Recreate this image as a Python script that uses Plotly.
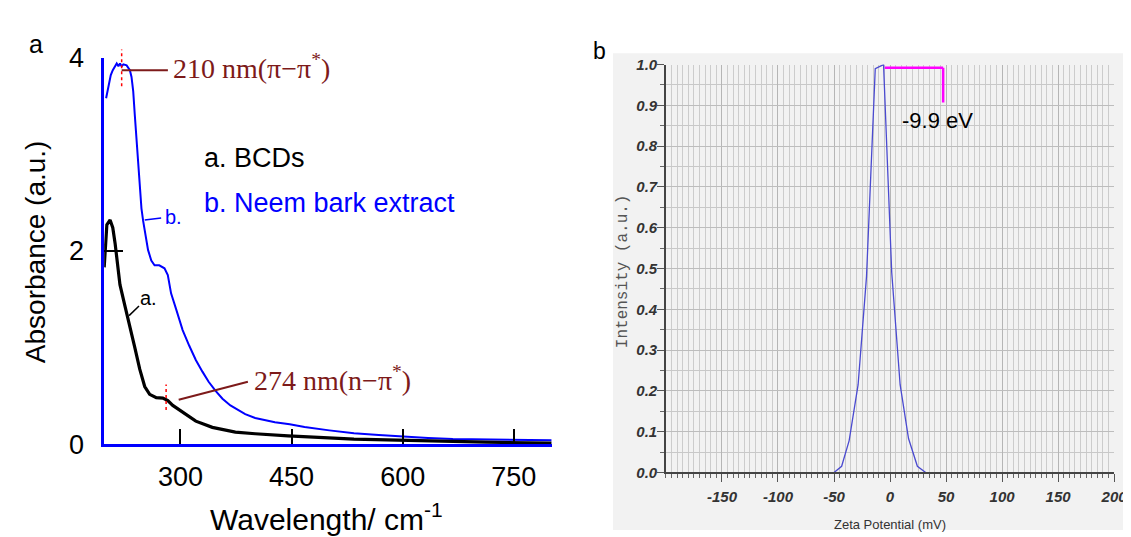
import plotly.graph_objects as go

W, H = 1131, 537

# ---------------- Panel a : UV-vis absorbance ----------------
bcd_wavelength = [197.0, 198.6, 200.6, 205.0, 208.6, 211.7, 214.9, 218.3, 225.0, 231.7, 238.3, 245.0,
                  251.7, 258.4, 267.3, 276.2, 282.9, 289.6, 298.4, 307.3, 320.7, 343.0, 356.3, 374.1,
                  400.8, 445.2, 534.2, 623.2, 712.1, 801.1]
bcd_absorbance = [1.83, 2.01, 2.27, 2.32, 2.24, 2.08, 1.85, 1.65, 1.43, 1.23, 1.00, 0.775,
                  0.596, 0.515, 0.48, 0.476, 0.45, 0.40, 0.352, 0.30, 0.237, 0.173, 0.15, 0.124,
                  0.107, 0.085, 0.052, 0.032, 0.020, 0.010]

neem_wavelength = [199.6, 202.8, 205.9, 208.6, 211.6, 213.9, 216.2, 218.3, 220.6, 222.9, 227.3, 231.7,
                   233.9, 236.2, 238.3, 240.6, 242.9, 245.0, 247.3, 249.6, 253.0, 256.2, 260.6, 265.0,
                   271.3, 278.4, 282.9, 287.3, 294.0, 302.9, 311.7, 320.7, 329.6, 338.0, 347.4, 356.7,
                   367.4, 378.1, 387.4, 400.8, 414.1, 427.5, 447.5, 467.5, 500.9, 534.2, 567.6, 600.9,
                   634.3, 667.6, 734.4, 801.1]
neem_absorbance = [3.58, 3.71, 3.82, 3.87, 3.92, 3.94, 3.91, 3.94, 3.91, 3.93, 3.92, 3.87,
                   3.80, 3.65, 3.41, 3.16, 2.89, 2.63, 2.44, 2.31, 2.14, 2.01, 1.90, 1.85,
                   1.85, 1.82, 1.75, 1.56, 1.40, 1.18, 1.02, 0.87, 0.75, 0.645, 0.55, 0.47,
                   0.40, 0.35, 0.31, 0.27, 0.245, 0.225, 0.205, 0.176, 0.142, 0.112, 0.093, 0.075,
                   0.062, 0.052, 0.042, 0.039]

a_x_ticks = [300, 450, 600, 750]
a_y_ticks = [0, 2, 4]
peak_pi = 220.6      # marked "210 nm" peak (position on drawn axis)
peak_n = 280.6       # marked "274 nm" shoulder

# ---------------- Panel b : zeta potential ----------------
zeta_mv = [-50, -43.2, -36.5, -28.5, -21.0, -13.2, -5.8, 1.5, 9.0, 16.5, 24.4, 31.8]
zeta_intensity = [0.0, 0.015, 0.078, 0.215, 0.48, 0.99, 1.0, 0.49, 0.215, 0.083, 0.015, 0.0]

b_x_tickvals = [-150, -100, -50, 0, 50, 100, 150, 200]
b_x_ticktext = ["-150", "-100", "-50", "0", "50", "100", "150", "200"]
b_y_tickvals = [0.0, 0.1, 0.2, 0.3, 0.4, 0.5, 0.6, 0.7, 0.8, 0.9, 1.0]
b_y_ticktext = ["0.0", "0.1", "0.2", "0.3", "0.4", "0.5", "0.6", "0.7", "0.8", "0.9", "1.0"]


def px(x):
    return x / W


def py(y):
    return 1 - y / H


SANS = "Liberation Sans"
SERIF = "Liberation Serif"
MONO = "Liberation Mono"
DARKRED = "#7d1a1a"

fig = go.Figure()

fig.add_trace(go.Scatter(x=neem_wavelength, y=neem_absorbance, mode="lines",
                         line=dict(color="#0000ff", width=2), xaxis="x", yaxis="y",
                         showlegend=False))
fig.add_trace(go.Scatter(x=bcd_wavelength, y=bcd_absorbance, mode="lines",
                         line=dict(color="#000000", width=3.2), xaxis="x", yaxis="y",
                         showlegend=False))
fig.add_trace(go.Scatter(x=zeta_mv, y=zeta_intensity, mode="lines",
                         line=dict(color="#4a4ad0", width=1.3), xaxis="x2", yaxis="y2",
                         showlegend=False))

shapes = [
    # grey instrument background of panel b
    dict(type="rect", xref="paper", yref="paper", x0=px(612), x1=1, y0=0, y1=py(32),
         fillcolor="#f2f2f2", line=dict(width=0), layer="below"),
    # dotted peak markers
    dict(type="line", xref="x", yref="paper", x0=peak_pi, x1=peak_pi, y0=py(67), y1=py(28),
         line=dict(color="#ff0000", width=1.5, dash="dot")),
    dict(type="line", xref="x", yref="paper", x0=peak_n, x1=peak_n, y0=py(410), y1=py(383),
         line=dict(color="#ff0000", width=1.5, dash="dot")),
    # leader lines for peak labels
    dict(type="line", xref="x", yref="y", x0=peak_pi, x1=283.0, y0=3.87, y1=3.87,
         line=dict(color=DARKRED, width=2)),
    dict(type="line", xref="x", yref="y", x0=297.6, x1=391.0, y0=0.459, y1=0.645,
         line=dict(color=DARKRED, width=2)),
    # leader lines for curve labels
    dict(type="line", xref="x", yref="y", x0=251.7, x1=273.9, y0=2.32, y1=2.34,
         line=dict(color="#0000ff", width=1.5)),
    dict(type="line", xref="x", yref="y", x0=230.6, x1=244.0, y0=1.33, y1=1.43,
         line=dict(color="#000000", width=1.5)),
    # magenta marker on zeta peak
    dict(type="line", xref="x2", yref="y2", x0=-4.7, x1=47.4, y0=0.992, y1=0.992,
         line=dict(color="#ff00ff", width=2.5)),
    dict(type="line", xref="x2", yref="y2", x0=47.4, x1=47.4, y0=0.992, y1=0.907,
         line=dict(color="#ff00ff", width=2.5)),
]

annotations = [
    dict(text="a", x=px(28), y=py(22), font=dict(family=SANS, size=25, color="black")),
    dict(text="b", x=px(598), y=py(30), font=dict(family=SANS, size=23, color="black")),
    dict(text="Absorbance (a.u.)", x=px(28), y=py(242), textangle=-90,
         font=dict(family=SANS, size=28, color="black")),
    dict(text="Wavelength/ cm<sup>-1</sup>", x=px(322), y=py(523),
         font=dict(family=SANS, size=30, color="black")),
    dict(text="a. BCDs", x=px(196), y=py(143), xanchor="left",
         font=dict(family=SANS, size=27, color="black")),
    dict(text="b. Neem bark extract", x=px(196), y=py(191), xanchor="left",
         font=dict(family=SANS, size=27, color="#0000ff")),
    dict(text="b.", x=px(157), y=py(206), xanchor="left",
         font=dict(family=SANS, size=20, color="#0000ff")),
    dict(text="a.", x=px(132), y=py(291), xanchor="left",
         font=dict(family=SANS, size=20, color="black")),
    dict(text="210 nm(π−π<sup>*</sup>)", x=px(165), y=py(46), xanchor="left",
         font=dict(family=SERIF, size=28, color=DARKRED)),
    dict(text="274 nm(n−π<sup>*</sup>)", x=px(247), y=py(377), xanchor="left",
         font=dict(family=SERIF, size=28, color=DARKRED)),
    dict(text="-9.9 eV", x=px(902), y=py(103), xanchor="left",
         font=dict(family=SANS, size=22, color="black")),
    dict(text="Intensity (a.u.)", x=px(622), y=py(263), textangle=-90,
         font=dict(family=MONO, size=16, color="#555555")),
    dict(text="Zeta Potential (mV)", x=px(892), y=py(531),
         font=dict(family=SANS, size=13, color="#333333")),
]
for a in annotations:
    a.setdefault("xref", "paper")
    a.setdefault("yref", "paper")
    a.setdefault("showarrow", False)
    a.setdefault("xanchor", "center")
    a.setdefault("yanchor", "middle")

b_tickfont = dict(family=SANS, size=15, color="#333333", weight="bold", style="italic")

fig.update_layout(
    width=W, height=H, autosize=False,
    margin=dict(l=0, r=0, t=0, b=0),
    paper_bgcolor="white", plot_bgcolor="white",
    shapes=shapes, annotations=annotations,
    xaxis=dict(domain=[px(97.3), px(550)], range=[197, 801.1], anchor="y",
               tickmode="array", tickvals=a_x_ticks, ticks="inside", ticklen=15, tickwidth=2,
               tickcolor="black", showline=True, linecolor="#0000ff", linewidth=2.5,
               showgrid=False, zeroline=False, ticklabelstandoff=7,
               tickfont=dict(family=SANS, size=27, color="black")),
    yaxis=dict(domain=[py(446), py(36.7)], range=[0, 4], anchor="x",
               tickmode="array", tickvals=a_y_ticks, ticks="inside", ticklen=19, tickwidth=2,
               tickcolor="black", showline=True, linecolor="#0000ff", linewidth=2.5,
               showgrid=False, zeroline=False, ticklabelstandoff=12,
               tickfont=dict(family=SANS, size=27, color="black")),
    xaxis2=dict(domain=[px(665.6), px(1119)], range=[-200, 200], anchor="y2",
                tickmode="array", tickvals=b_x_tickvals, ticktext=b_x_ticktext,
                ticks="outside", ticklen=8, tickwidth=1, tickcolor="#555555",
                showline=True, linecolor="#444444", linewidth=1.5,
                showgrid=True, gridcolor="#b5b5b5", gridwidth=1, zeroline=False,
                minor=dict(tickmode="linear", tick0=0, dtick=5, ticks="outside", ticklen=4,
                           tickwidth=1, tickcolor="#666666", showgrid=True,
                           gridcolor="#cccccc", gridwidth=1),
                tickfont=b_tickfont, ticklabelstandoff=2, ticklabeloverflow="allow"),
    yaxis2=dict(domain=[py(476), py(44)], range=[0, 1], anchor="x2",
                tickmode="array", tickvals=b_y_tickvals, ticktext=b_y_ticktext,
                ticks="outside", ticklen=7, tickwidth=1, tickcolor="#555555",
                showline=True, linecolor="#444444", linewidth=1.5,
                showgrid=True, gridcolor="#bdbdbd", gridwidth=1, zeroline=False,
                minor=dict(tickmode="linear", tick0=0, dtick=0.05, ticks="outside", ticklen=4,
                           tickwidth=1, tickcolor="#666666", showgrid=True,
                           gridcolor="#c8c8c8", gridwidth=1),
                tickfont=b_tickfont, ticklabelstandoff=-3),
)

fig.write_html("out.html")
